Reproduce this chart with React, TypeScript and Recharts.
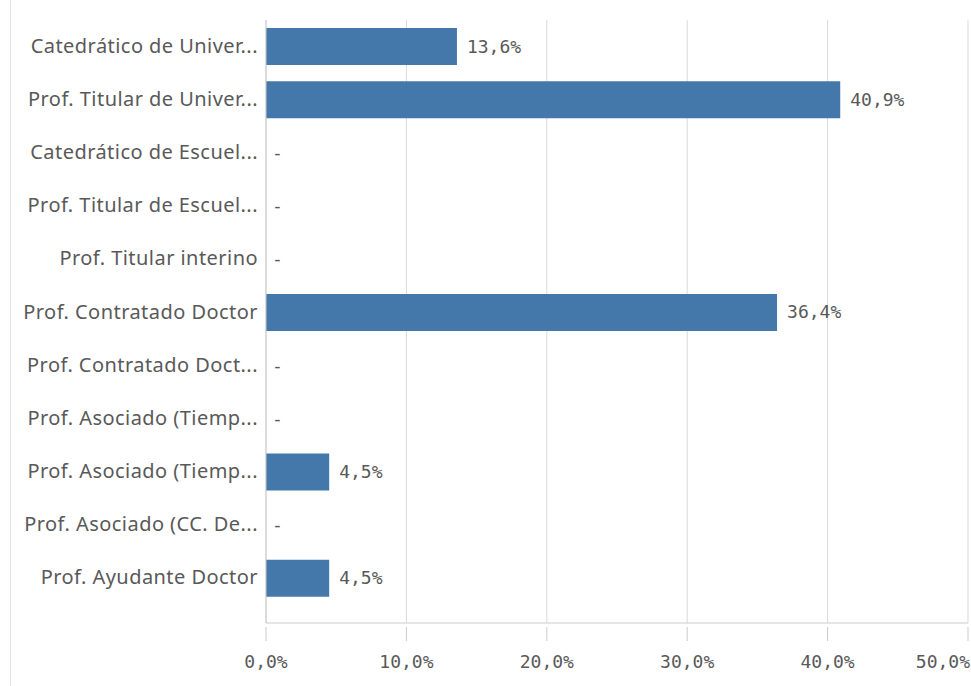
import React from 'react';
import { BarChart, Bar, XAxis, YAxis, CartesianGrid, LabelList } from 'recharts';

const categories = [
  'Catedrático de Univer...',
  'Prof. Titular de Univer...',
  'Catedrático de Escuel...',
  'Prof. Titular de Escuel...',
  'Prof. Titular interino',
  'Prof. Contratado Doctor',
  'Prof. Contratado Doct...',
  'Prof. Asociado (Tiemp...',
  'Prof. Asociado (Tiemp...',
  'Prof. Asociado (CC. De...',
  'Prof. Ayudante Doctor',
];
const values = [13.6, 40.9, 0, 0, 0, 36.4, 0, 0, 4.5, 0, 4.5];
const xTicks = [0, 10, 20, 30, 40, 50];

const data = categories.map((name, i) => ({ key: `${i}`, name, value: values[i] }));

const fmt = (v: number) => v.toFixed(1).replace('.', ',') + '%';

const TEXT = '#595959';
const MONO = '"DejaVu Sans Mono", monospace';

const XTick = (props: any) => {
  const { x, y, payload } = props;
  const last = payload.value === xTicks[xTicks.length - 1];
  return (
    <g>
      <line x1={x} x2={x} y1={y + 4} y2={y + 18} stroke="#cccccc" strokeWidth={1} />
      <text
        x={last ? x + 2 : x}
        y={y + 45}
        textAnchor={last ? 'end' : 'middle'}
        fill={TEXT}
        fontSize={18}
        fontFamily={MONO}
      >
        {fmt(payload.value)}
      </text>
    </g>
  );
};

const YTick = (props: any) => {
  const { x, y, payload } = props;
  const name = categories[Number(payload.value)];
  return (
    <text
      x={x}
      y={y}
      dy={6}
      textAnchor="end"
      fill={TEXT}
      fontSize={20}
      letterSpacing={0.45}
      fontFamily='"Noto Sans", sans-serif'
    >
      {name}
    </text>
  );
};

const ValueLabel = (props: any) => {
  const { x, y, width, height, value } = props;
  const v = Number(value);
  const zero = v === 0;
  return (
    <text
      x={Number(x) + Number(width) + (zero ? 6 : 10)}
      y={Number(y) + Number(height) / 2}
      dy={6}
      textAnchor="start"
      fill={TEXT}
      fontSize={18}
      fontFamily={MONO}
    >
      {zero ? '-' : fmt(v)}
    </text>
  );
};

export default function App() {
  return (
    <div style={{ position: 'absolute', left: 0, top: 0, width: 971, height: 686, background: '#fff' }}>
      <div style={{ position: 'absolute', left: 10, top: 0, width: 1, height: 686, background: '#e3e3e3' }} />
      <BarChart
        width={971}
        height={686}
        data={data}
        layout="vertical"
        margin={{ top: 20, right: 3, bottom: 0, left: 0 }}
      >
        <CartesianGrid horizontal={false} vertical={true} stroke="#d9d9d9" />
        <XAxis
          type="number"
          dataKey="value"
          domain={[0, 50]}
          ticks={xTicks}
          height={63}
          axisLine={{ stroke: '#cccccc' }}
          tickLine={false}
          tickSize={0}
          tickMargin={0}
          tick={<XTick />}
          interval={0}
        />
        <YAxis
          type="category"
          dataKey="key"
          width={266}
          axisLine={{ stroke: '#cccccc' }}
          tickLine={false}
          tickSize={0}
          tickMargin={8}
          tick={<YTick />}
          interval={0}
          padding={{ top: 0, bottom: 18 }}
        />
        <Bar dataKey="value" fill="#4477aa" barSize={37} minPointSize={0.01} isAnimationActive={false}>
          <LabelList dataKey="value" content={<ValueLabel />} />
        </Bar>
      </BarChart>
    </div>
  );
}
